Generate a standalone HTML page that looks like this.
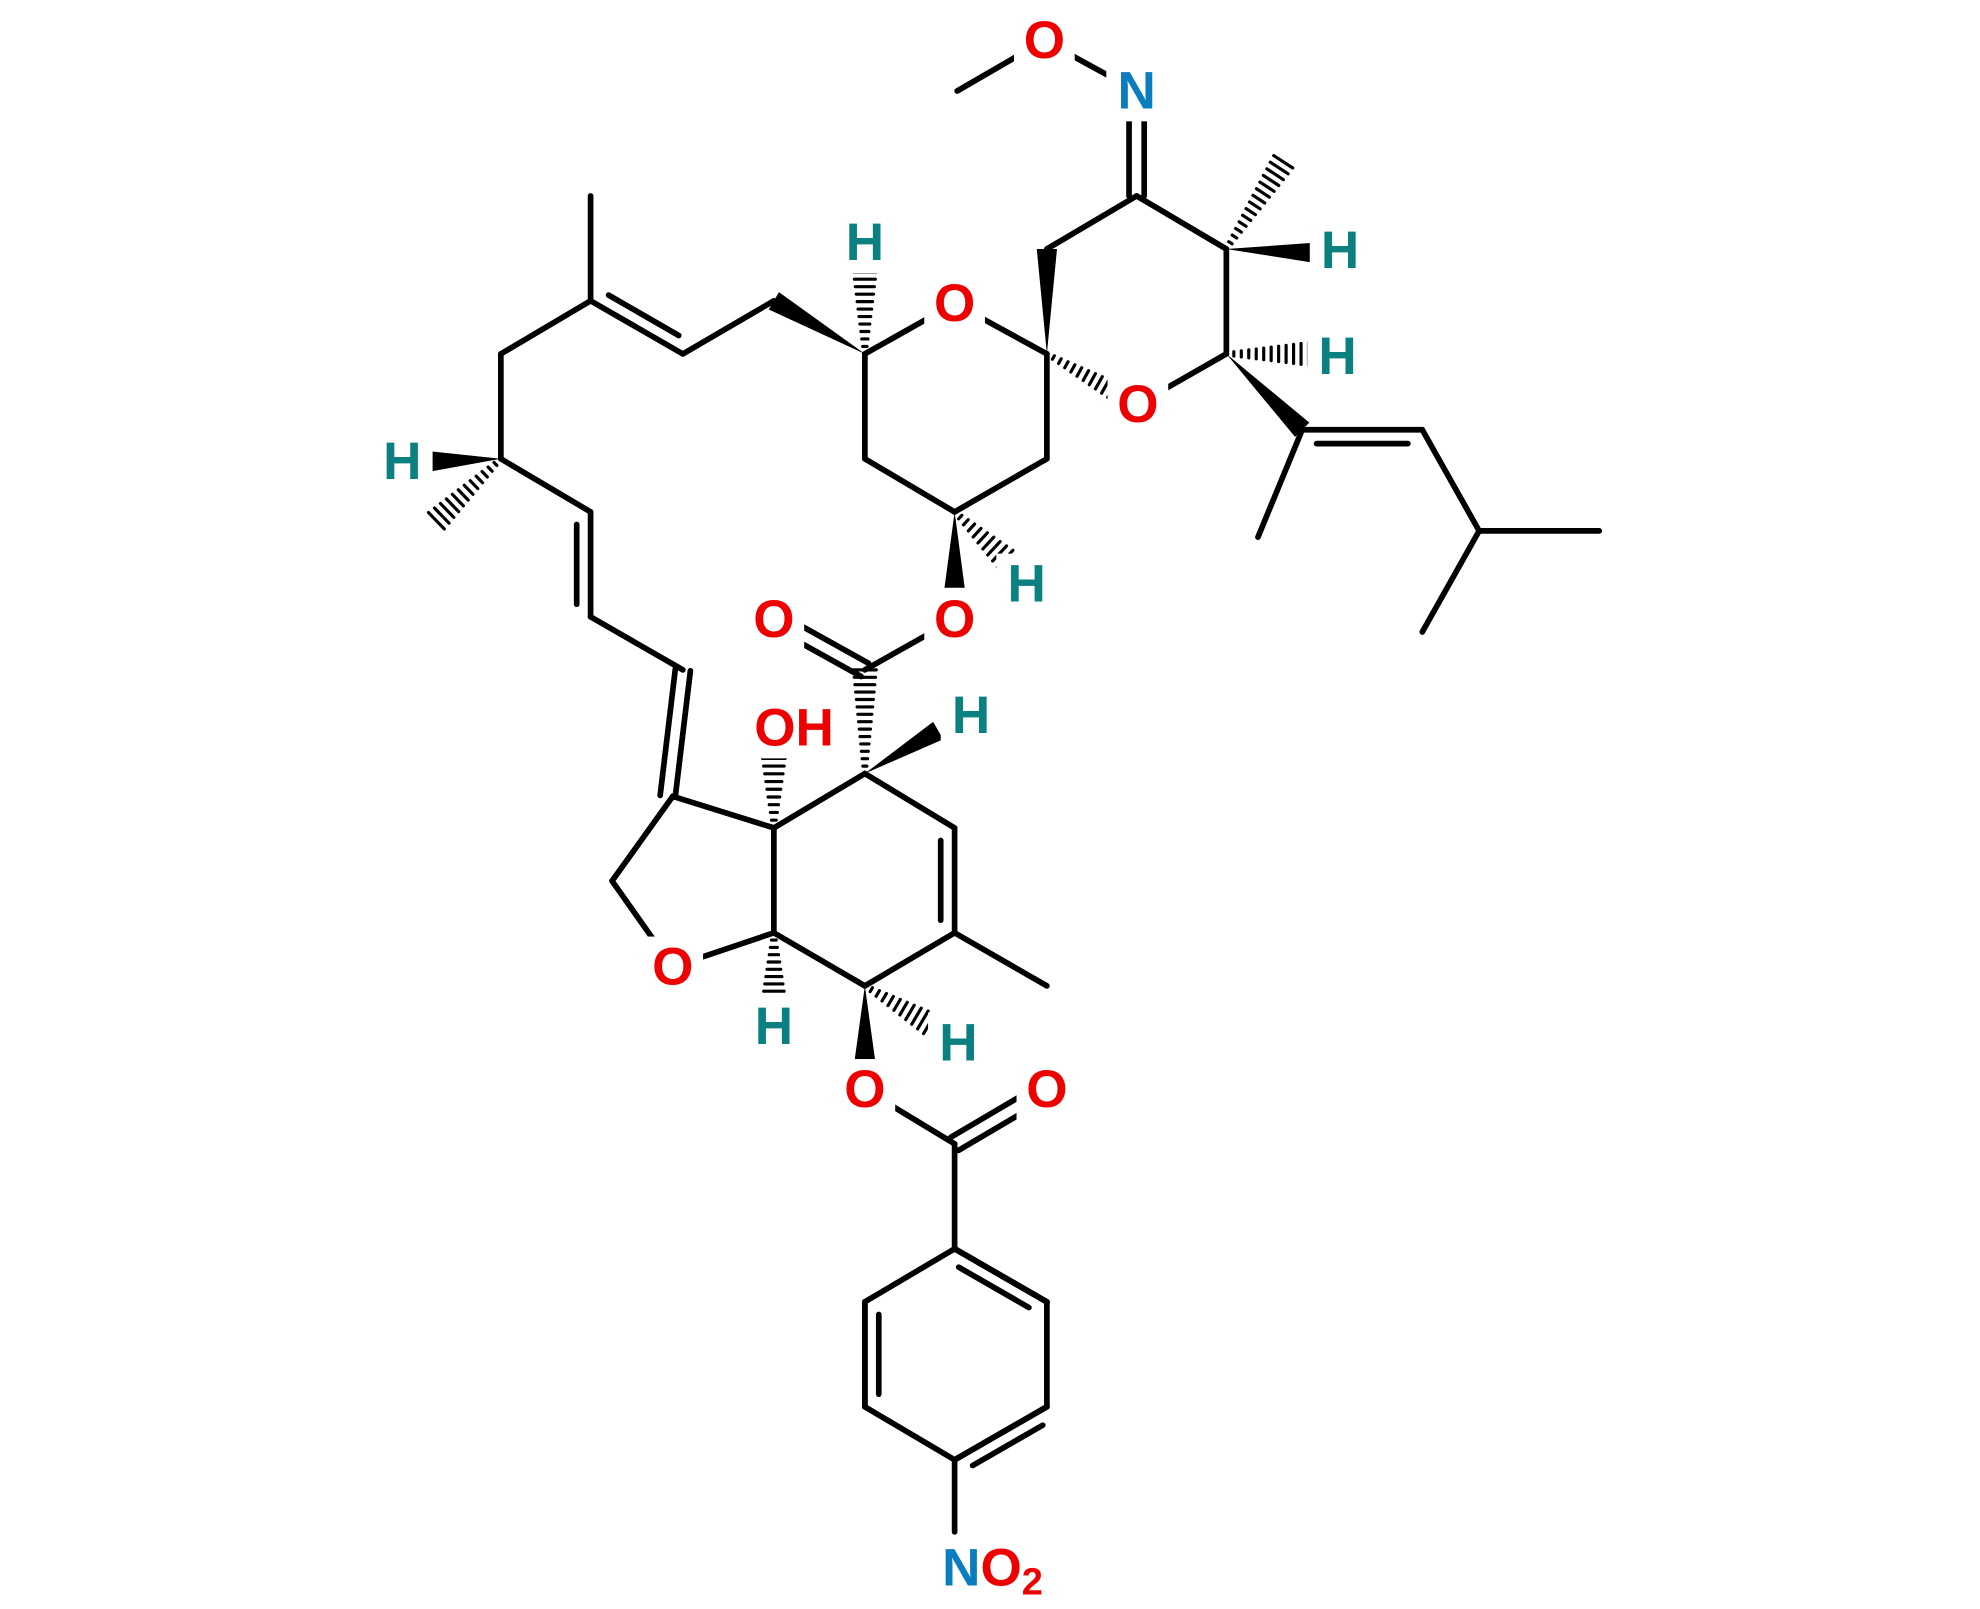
<!DOCTYPE html>
<html><head><meta charset="utf-8"><style>
html,body{margin:0;padding:0;background:#fff;}
svg{display:block}
text{font-family:"Liberation Sans",Arial,sans-serif;font-weight:bold;font-size:42px;text-anchor:middle;dominant-baseline:central}
</style></head><body>
<svg id="s" width="1980" height="1609" viewBox="0 0 1566 1273" xmlns="http://www.w3.org/2000/svg">
<g id="b" stroke="#000" stroke-width="4.5" stroke-linecap="round" fill="#000"></g>
<g id="l"></g>
</svg>
<script>
const NS="http://www.w3.org/2000/svg",B=document.getElementById('b'),L=document.getElementById('l');
function el(p,t,a){const e=document.createElementNS(NS,t);for(const k in a)e.setAttribute(k,a[k]);p.appendChild(e);return e;}
function ln(a,b,c,d){el(B,'line',{x1:a,y1:b,x2:c,y2:d});}
function dbl(a,b,c,d,side){ // inner double line offset
 ln(a,b,c,d);const dx=c-a,dy=d-b,len=Math.hypot(dx,dy),nx=-dy/len*11*side,ny=dx/len*11*side;
 const sh=0.12;ln(a+dx*sh+nx,b+dy*sh+ny,c-dx*sh+nx,d-dy*sh+ny);}
function dblc(a,b,c,d){const dx=c-a,dy=d-b,len=Math.hypot(dx,dy),nx=-dy/len*6,ny=dx/len*6;
 ln(a+nx,b+ny,c+nx,d+ny);ln(a-nx,b-ny,c-nx,d-ny);}
function wedge(a,b,c,d){const dx=c-a,dy=d-b,len=Math.hypot(dx,dy),nx=-dy/len*8,ny=dx/len*8;
 el(B,'polygon',{points:`${a},${b} ${c+nx},${d+ny} ${c-nx},${d-ny}`,stroke:'none'});}
function hash(a,b,c,d){const dx=c-a,dy=d-b,len=Math.hypot(dx,dy),n=Math.max(5,Math.round(len/6));
 for(let i=0;i<=n;i++){const t=i/n,w=1+8*t,x=a+dx*t,y=b+dy*t,nx=-dy/len*w,ny=dx/len*w;
 el(B,'line',{x1:x+nx,y1:y+ny,x2:x-nx,y2:y-ny,'stroke-width':2.5});}}
function lab(x,y,t,c){el(L,'rect',{x:x-24,y:y-24,width:48,height:48,fill:'#fff'});const e=el(L,'text',{x:x,y:y,fill:c});e.textContent=t;return e;}
const R='#ee0000',N='#0a7cc0',H='#0a8080';
// top oxime
ln(757,72,826,32);ln(826,32,899,72);dblc(899,72,899,155);
ln(899,155,828,197);wedge(828,280,828,197);ln(899,155,970,197);
hash(970,197,1015,128);wedge(970,197,1040,200);ln(970,197,970,280);
hash(970,280,1035,280);ln(970,280,900,320);hash(828,280,900,320);
wedge(970,280,1030,340);dbl(1030,340,1125,340,1);ln(1030,340,995,425);
ln(1125,340,1170,420);ln(1170,420,1265,420);ln(1170,420,1125,500);
ln(828,280,755,240);ln(755,240,684,280);ln(828,280,828,363);ln(828,363,755,405);ln(755,405,684,363);ln(684,363,684,280);
hash(684,280,684,215);wedge(684,280,612,238);ln(612,238,540,280);dbl(540,280,467,238,1);
ln(467,238,467,155);ln(467,238,396,280);ln(396,280,396,363);
wedge(396,363,340,365);hash(396,363,345,412);ln(396,363,467,405);dbl(467,405,467,488,1);
ln(467,488,540,530);dblc(540,530,528,630);
hash(755,405,795,442);wedge(755,405,755,465);
ln(755,490,684,530);dblc(684,530,612,490);hash(684,612,684,530);
wedge(684,612,742,578);ln(684,612,612,655);hash(612,655,612,600);
ln(684,612,755,655);dbl(755,655,755,738,1);ln(755,738,828,780);ln(755,738,684,780);
hash(684,780,735,810);wedge(684,780,684,838);ln(684,780,612,738);ln(612,738,612,655);
hash(612,738,612,790);ln(612,738,532,765);ln(532,765,484,697);ln(484,697,532,630);ln(532,630,612,655);
ln(684,862,755,905);dblc(755,905,828,862);ln(755,905,755,988);
ln(755,988,828,1030);ln(828,1030,828,1113);ln(828,1113,755,1155);ln(755,1155,684,1113);ln(684,1113,684,1030);ln(684,1030,755,988);
dbl(828,1030,755,988,-1);dbl(684,1030,684,1113,-1);dbl(755,1155,828,1113,1);
dbl(828,1030,755,988,0);
ln(755,1155,755,1212);
// labels
lab(826,32,'O',R);lab(899,72,'N',N);lab(900,320,'O',R);lab(755,240,'O',R);
lab(1060,198,'H',H);lab(1058,282,'H',H);lab(684,192,'H',H);lab(318,365,'H',H);
lab(812,462,'H',H);lab(755,490,'O',R);lab(612,490,'O',R);lab(768,566,'H',H);
const oh=lab(628,576,'OH',R);L.lastChild.previousSibling.setAttribute('width',80);L.lastChild.previousSibling.setAttribute('x',588);
lab(532,765,'O',R);lab(612,812,'H',H);lab(758,825,'H',H);lab(684,862,'O',R);lab(828,862,'O',R);
const t=el(L,'text',{x:785,y:1240});t.innerHTML='<tspan fill="'+N+'">N</tspan><tspan fill="'+R+'">O</tspan><tspan fill="'+R+'" font-size="30" dy="12">2</tspan>';
</script>
</body></html>
